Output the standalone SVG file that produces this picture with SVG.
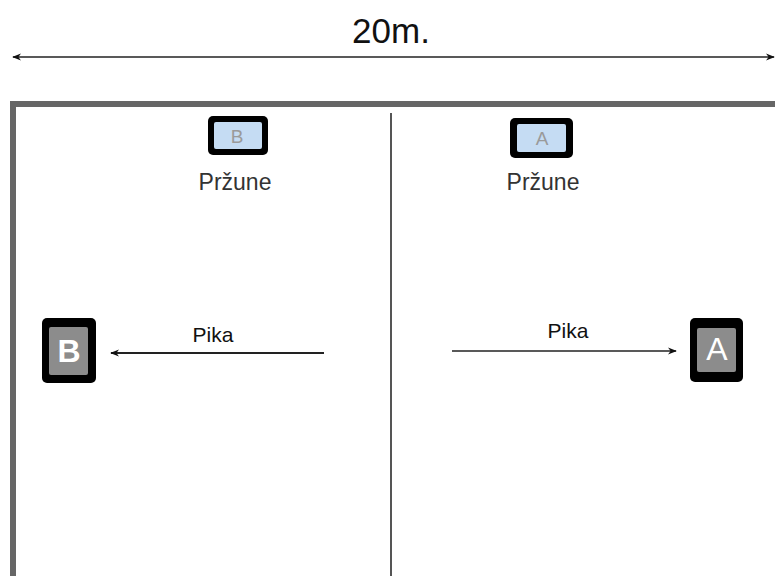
<svg xmlns="http://www.w3.org/2000/svg" width="775" height="576" viewBox="0 0 775 576">
<defs>
<style>
.t{font-family:"Liberation Sans",Arial,sans-serif;fill:#111}
.line{stroke:#222;fill:none}
.ob{fill:#000}
.bi{fill:#c5dcf3}
.gi{fill:#8c8c8c}
.bl{font-family:"Liberation Sans",Arial,sans-serif;fill:#9a9a9a;font-size:19px;text-anchor:middle}
.wl{font-family:"Liberation Sans",Arial,sans-serif;fill:#fff;font-size:32px;text-anchor:middle}
.pz{font-size:23px;text-anchor:middle;fill:#333}
.pk{font-size:21px;text-anchor:middle}
</style>
<marker id="ah" viewBox="0 0 10 10" refX="9" refY="5" markerWidth="9" markerHeight="9" markerUnits="userSpaceOnUse" orient="auto-start-reverse">
<path d="M0,1 L10,5 L0,9 L3,5 Z" fill="#111"/>
</marker>
</defs>
<rect width="775" height="576" fill="#fff"/>
<g id="dimension">
<text class="t" x="391" y="43" font-size="35" text-anchor="middle">20m.</text>
<line class="line" x1="13" y1="57" x2="774" y2="57" stroke-width="1.3" marker-start="url(#ah)" marker-end="url(#ah)"/>
</g>
<g id="field">
<path d="M13,576 V104 H775" fill="none" stroke="#666" stroke-width="6"/>
<line x1="391" y1="113" x2="391" y2="576" stroke="#555" stroke-width="2"/>
</g>
<g id="przune-B">
<rect class="ob" x="208" y="116" width="60" height="39" rx="5"/>
<rect class="bi" x="214" y="122" width="48" height="27" rx="2"/>
<text class="bl" x="237" y="143">B</text>
<text class="t pz" x="235" y="190">Pržune</text>
</g>
<g id="przune-A">
<rect class="ob" x="510" y="118" width="63" height="40" rx="5"/>
<rect class="bi" x="517" y="124" width="49" height="28" rx="2"/>
<text class="bl" x="542" y="145">A</text>
<text class="t pz" x="543" y="190">Pržune</text>
</g>
<g id="player-B">
<rect class="ob" x="42" y="318" width="54" height="65" rx="5"/>
<rect class="gi" x="49" y="327" width="39" height="48" rx="2"/>
<text class="wl" x="69" y="362" font-weight="bold">B</text>
</g>
<g id="player-A">
<rect class="ob" x="690" y="318" width="53" height="64" rx="5"/>
<rect class="gi" x="697" y="328" width="39" height="44" rx="2"/>
<text class="wl" x="717" y="360">A</text>
</g>
<g id="connectors">
<line class="line" x1="324" y1="353" x2="111" y2="353" stroke-width="2.2" marker-end="url(#ah)"/>
<text class="t pk" x="213" y="342">Pika</text>
<line class="line" x1="452" y1="351" x2="676" y2="351" stroke-width="1.3" marker-end="url(#ah)"/>
<text class="t pk" x="568" y="338">Pika</text>
</g>
</svg>
